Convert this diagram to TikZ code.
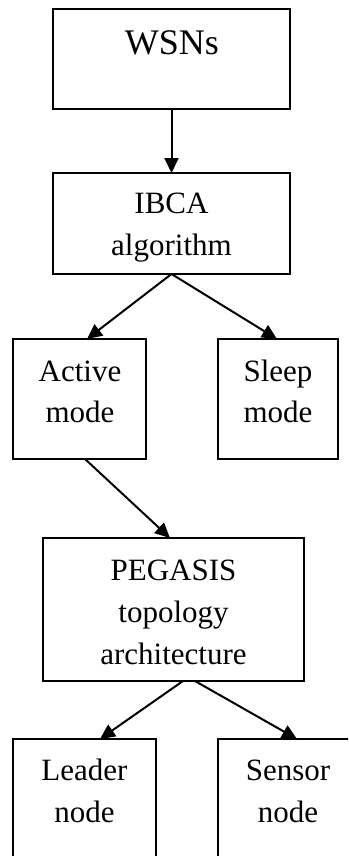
\documentclass[tikz,border=0pt]{standalone}
\usepackage{fontspec}
\setmainfont{Liberation Serif}
\usetikzlibrary{arrows.meta,calc}
\begin{document}
\begin{tikzpicture}[x=1pt,y=-1pt,
  box/.style={draw,line width=2pt,rectangle,inner sep=0pt,outer sep=0pt},
  lbl/.style={inner sep=0pt,anchor=base,font=\fontsize{31}{42}\selectfont},
  big/.style={inner sep=0pt,anchor=base,font=\fontsize{36}{44}\selectfont},
  conn/.style={line width=2pt,-{Triangle[length=15pt,width=14pt]}}]
\useasboundingbox (0,0) rectangle (348,856);
\clip (0,0) rectangle (348,856);
% boxes
\node[box,minimum width=237pt,minimum height=100pt] (wsn) at (171.5,59) {};
\node[box,minimum width=237pt,minimum height=101pt] (ibca) at (171.5,223.5) {};
\node[box,minimum width=133pt,minimum height=120pt] (active) at (79.5,399) {};
\node[box,minimum width=120pt,minimum height=120pt] (sleep) at (278,399) {};
\node[box,minimum width=261pt,minimum height=143pt] (peg) at (173.5,609.5) {};
\node[box,minimum width=143pt,minimum height=161pt] (leader) at (84.5,819.5) {};
\node[box,minimum width=182pt,minimum height=161pt] (sensor) at (309,819.5) {};
% texts
\node[big] (t1) at (172,55) {WSNs};
\node[lbl] (t2a) at (171.5,213) {IBCA};
\node[lbl] (t2b) at (171.5,255) {algorithm};
\node[lbl] (t3a) at (80,381) {Active};
\node[lbl] (t3b) at (80,422) {mode};
\node[lbl] (t4a) at (278,381) {Sleep};
\node[lbl] (t4b) at (278,422) {mode};
\node[lbl] (t5a) at (173.5,580) {PEGASIS};
\node[lbl] (t5b) at (173.5,622) {topology};
\node[lbl] (t5c) at (173.5,664) {architecture};
\node[lbl] (t6a) at (84.5,780) {Leader};
\node[lbl] (t6b) at (84.5,822) {node};
\node[lbl] (t7a) at (288,780) {Sensor};
\node[lbl] (t7b) at (288,822) {node};
% connectors
\draw[conn] (wsn.south) -- (ibca.north);
\draw[conn] (ibca.south) -- ($(active.north)+(7.5,0)$);
\draw[conn] (ibca.south) -- ($(sleep.north)+(-1,0)$);
\draw[conn] ($(active.south)+(5.5,0)$) -- ($(peg.north)+(-3.5,0)$);
\draw[conn] ($(peg.south)+(9.5,0)$) -- ($(leader.north)+(15.5,0)$);
\draw[conn] ($(peg.south)+(21.5,0)$) -- ($(sensor.north)+(-12,0)$);
\end{tikzpicture}
\end{document}
